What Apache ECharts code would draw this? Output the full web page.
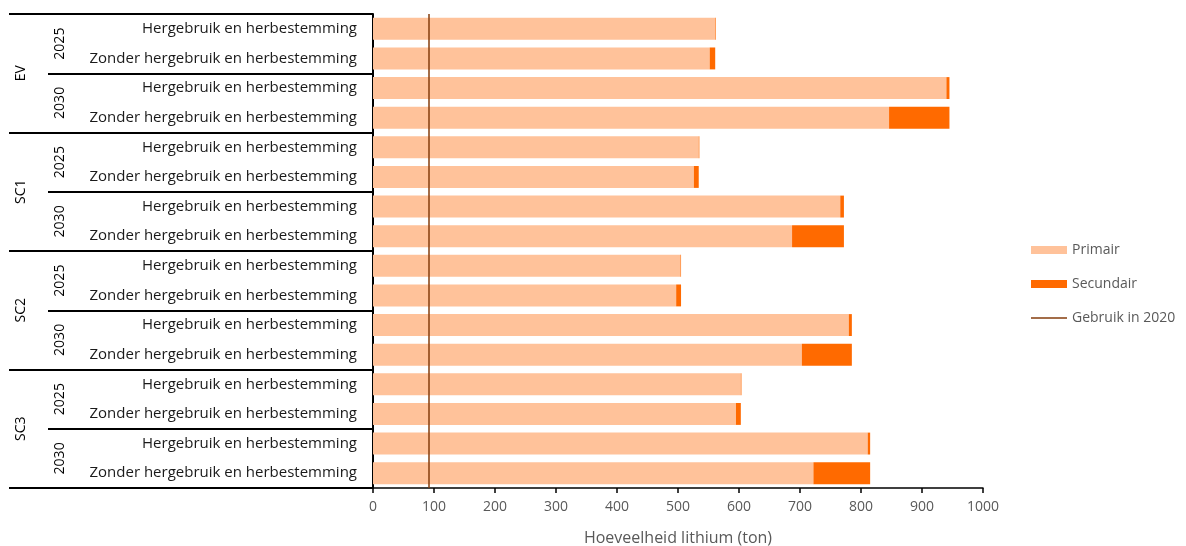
<!DOCTYPE html>
<html>
<head>
<meta charset="utf-8">
<script src="https://cdn.jsdelivr.net/npm/echarts@6/dist/echarts.min.js"></script>
<style>
    html, body {margin: 0; padding: 0; background: #fff;}
    #lithiumChart {width: 1186px; height: 546px;}
</style>
</head>
<body>
<div id="lithiumChart"></div>
<script type="text/javascript">
    // rows (top to bottom)
    var categories = [
        'Hergebruik en herbestemming', 'Zonder hergebruik en herbestemming',
        'Hergebruik en herbestemming', 'Zonder hergebruik en herbestemming',
        'Hergebruik en herbestemming', 'Zonder hergebruik en herbestemming',
        'Hergebruik en herbestemming', 'Zonder hergebruik en herbestemming',
        'Hergebruik en herbestemming', 'Zonder hergebruik en herbestemming',
        'Hergebruik en herbestemming', 'Zonder hergebruik en herbestemming',
        'Hergebruik en herbestemming', 'Zonder hergebruik en herbestemming',
        'Hergebruik en herbestemming', 'Zonder hergebruik en herbestemming'
    ];
    var years = ['2025', '2030', '2025', '2030', '2025', '2030', '2025', '2030'];
    var groups = ['EV', 'SC1', 'SC2', 'SC3'];

    var primair = [561, 552, 940, 846, 534, 526, 766, 687, 504, 497, 780, 703, 603, 595, 811, 722];
    var secundair = [1, 9, 5, 99, 1, 8, 6, 85, 1, 8, 5, 82, 1, 8, 4, 93];
    var gebruik2020 = 91;

    var xTicks = [0, 1000, 100];

    var font = 'Open Sans';
    var chart = echarts.init(document.getElementById('lithiumChart'));

    var option = {
        animation: false,
        textStyle: {fontFamily: font},
        grid: {left: 373, right: 203, top: 14, bottom: 58, containLabel: false, outerBoundsMode: 'none'},
        legend: {
            orient: 'vertical',
            left: 1026,
            top: 238,
            itemWidth: 36,
            itemHeight: 8,
            itemGap: 20,
            textStyle: {color: '#595959', fontSize: 14, fontFamily: font},
            data: [
                {name: 'Primair', icon: 'rect'},
                {name: 'Secundair', icon: 'rect'},
                // thin line icon, the outer moves keep the 36x8 box
                {name: 'Gebruik in 2020', icon: 'path://M0,0 M0,3.2 L36,3.2 L36,4.8 L0,4.8 Z M36,8'}
            ]
        },
        xAxis: {
            type: 'value',
            min: xTicks[0],
            max: xTicks[1],
            interval: xTicks[2],
            name: 'Hoeveelheid lithium (ton)',
            nameLocation: 'middle',
            nameGap: 42,
            nameTextStyle: {color: '#595959', fontSize: 16},
            splitLine: {show: false},
            axisLine: {show: true, lineStyle: {color: '#000', width: 1.5}},
            axisTick: {show: true, length: 5, lineStyle: {color: '#000', width: 1.5}},
            axisLabel: {
                color: '#595959', fontSize: 14, margin: 12,
                formatter: function (v) { return String(v); }
            }
        },
        yAxis: [
            {
                type: 'category',
                data: categories,
                inverse: true,
                position: 'left',
                axisLine: {show: true, lineStyle: {color: '#000', width: 2}},
                axisTick: {show: false},
                axisLabel: {interval: 0, color: '#1a1a1a', fontSize: 15, margin: 16}
            },
            {
                type: 'category',
                data: years,
                inverse: true,
                position: 'left',
                axisLine: {show: false},
                axisTick: {show: true, interval: 0, length: 325, lineStyle: {color: '#000', width: 2}},
                axisLabel: {interval: 0, rotate: 90, color: '#000', fontSize: 14, margin: 306}
            },
            {
                type: 'category',
                data: groups,
                inverse: true,
                position: 'left',
                axisLine: {show: false},
                axisTick: {show: true, interval: 0, length: 364, lineStyle: {color: '#000', width: 2}},
                axisLabel: {interval: 0, rotate: 90, color: '#000', fontSize: 14, margin: 345}
            }
        ],
        series: [
            {
                name: 'Primair',
                type: 'bar',
                stack: 'total',
                yAxisIndex: 0,
                barCategoryGap: '26%',
                itemStyle: {color: '#FFC29A'},
                data: primair
            },
            {
                name: 'Secundair',
                type: 'bar',
                stack: 'total',
                yAxisIndex: 0,
                itemStyle: {color: '#FF6A00'},
                data: secundair
            },
            {
                name: 'Gebruik in 2020',
                type: 'line',
                yAxisIndex: 0,
                symbol: 'none',
                itemStyle: {color: '#843C0C'},
                lineStyle: {color: '#843C0C', width: 1.5},
                data: [],
                markLine: {
                    silent: true,
                    symbol: 'none',
                    label: {show: false},
                    lineStyle: {color: '#843C0C', width: 1.5, type: 'solid'},
                    data: [{xAxis: gebruik2020}]
                }
            }
        ]
    };
    chart.setOption(option);
</script>
</body>
</html>
